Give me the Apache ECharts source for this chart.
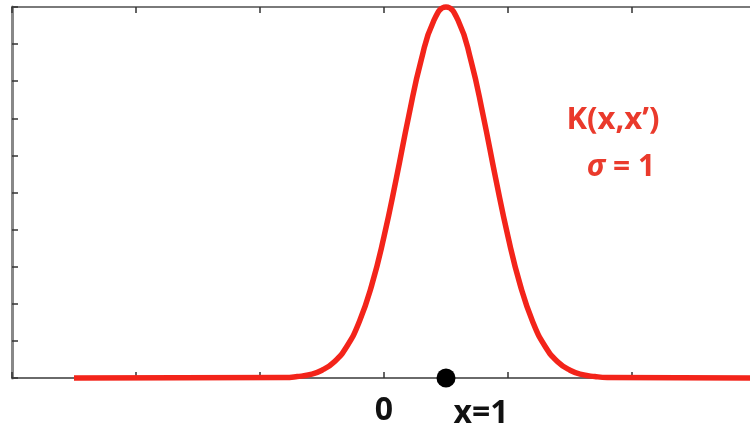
<!DOCTYPE html>
<html>
<head>
<meta charset="utf-8">
<script src="https://cdn.jsdelivr.net/npm/echarts@6/dist/echarts.min.js"></script>
<style>html,body{margin:0;padding:0;background:#fff}#c{width:750px;height:430px}</style>
</head>
<body>
<div id="c"></div>
<script>
// Kernel curve K(x, x') centred at x' = 1
const curveX = [-5, -1.6, -1.4, -1.2, -1.0, -0.8, -0.6, -0.4, -0.2, 0.0, 0.2, 0.4, 0.6, 0.8, 1.0, 1.2, 1.4, 1.6, 1.8, 2.0, 2.2, 2.4, 2.6, 2.8, 3.0, 3.2, 3.4, 3.6, 6];
const curveY = [0, 0.0015, 0.004, 0.009, 0.021, 0.044, 0.085, 0.151, 0.249, 0.381, 0.539, 0.707, 0.857, 0.962, 1.0, 0.962, 0.857, 0.707, 0.539, 0.381, 0.249, 0.151, 0.085, 0.044, 0.021, 0.009, 0.004, 0.0015, 0];
const pointX = [1];
const pointY = [0];
const xTickLabels = {"0": "0"};
const curveLabel = "K(x,x\u2019)";
const sigmaLabel = "{i|\u03c3} = 1";
const pointLabel = "x=1";

const chart = echarts.init(document.getElementById('c'), null, {renderer: 'canvas'});
const tickStyle = {show: true, inside: true, length: 6, lineStyle: {color: '#333', width: 1.5}};
const font = 'Open Sans';
chart.setOption({
  animation: false,
  backgroundColor: '#fff',
  grid: {left: 12, top: 7, width: 744, height: 371, containLabel: false, outerBoundsMode: 'none'},
  xAxis: [
    {type: 'value', min: -6, max: 6, interval: 2, position: 'bottom',
     axisLine: {show: true, onZero: false, lineStyle: {color: '#6a6a6a', width: 2}},
     axisTick: tickStyle, splitLine: {show: false},
     axisLabel: {show: true, margin: 17, color: '#111', fontFamily: font, fontWeight: 'bold', fontSize: 32,
       formatter: v => xTickLabels[String(v)] || ''}},
    {type: 'value', min: -6, max: 6, interval: 2, position: 'top',
     axisLine: {show: true, onZero: false, lineStyle: {color: '#7a7a7a', width: 2}},
     axisTick: tickStyle, splitLine: {show: false}, axisLabel: {show: false}}
  ],
  yAxis: [
    {type: 'value', min: 0, max: 1, interval: 0.1, position: 'left',
     axisLine: {show: true, onZero: false, lineStyle: {color: '#888', width: 3}},
     axisTick: tickStyle, splitLine: {show: false}, axisLabel: {show: false}},
    {type: 'value', min: 0, max: 1, interval: 0.1, position: 'right',
     axisLine: {show: true, onZero: false, lineStyle: {color: '#888', width: 2}},
     axisTick: tickStyle, splitLine: {show: false}, axisLabel: {show: false}}
  ],
  series: [
    {type: 'line', smooth: true, symbol: 'none', clip: false,
     data: curveX.map((x, i) => [x, curveY[i]]),
     lineStyle: {color: '#f3241a', width: 5.5}},
    {type: 'scatter', symbol: 'circle', symbolSize: 19, z: 5,
     data: pointX.map((x, i) => [x, pointY[i]]),
     itemStyle: {color: '#000', opacity: 1},
     label: {show: true, formatter: pointLabel, position: 'bottom', offset: [35, 5],
       color: '#111', fontFamily: font, fontWeight: 'bold', fontSize: 32}}
  ],
  graphic: [
    {type: 'text', x: 613, y: 105, z: 10,
     style: {text: curveLabel, fill: '#ea3a2c', font: 'bold 31px "Open Sans"', align: 'center', verticalAlign: 'top'}},
    {type: 'text', x: 621, y: 152, z: 10,
     style: {text: sigmaLabel, fill: '#ea3a2c', font: 'bold 30px "Open Sans"', align: 'center', verticalAlign: 'top',
       rich: {i: {fontStyle: 'italic', fontWeight: 'bold', fontSize: 30, fontFamily: font, fill: '#ea3a2c'}}}}
  ]
});
</script>
</body>
</html>
